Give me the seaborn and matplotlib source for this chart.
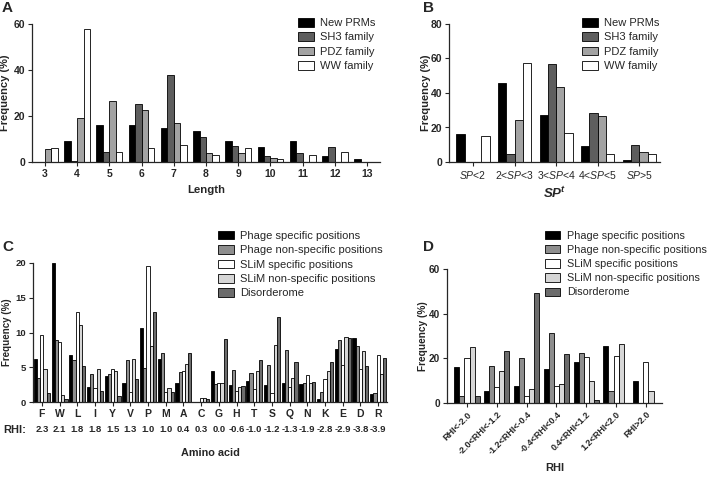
import matplotlib
matplotlib.use("Agg")
import matplotlib.pyplot as plt
import matplotlib.transforms as mtransforms
import seaborn as sns
import pandas as pd

# ---- panel A: length distribution
lengths = ["3", "4", "5", "6", "7", "8", "9", "10", "11", "12", "13"]
families = ["New PRMs", "SH3 family", "PDZ family", "WW family"]
new_prms = [0, 9.3, 16.1, 16.1, 14.8, 13.3, 9.3, 6.7, 9.3, 2.5, 1.2]
sh3_len = [0, 0.4, 4.3, 25.4, 38.0, 11.0, 7.1, 2.5, 3.9, 6.5, 0]
pdz_len = [5.7, 19.0, 26.5, 22.5, 16.8, 3.8, 3.8, 1.7, 0, 0, 0]
ww_len = [5.9, 57.7, 4.3, 5.9, 7.5, 2.9, 5.9, 1.4, 3.0, 4.5, 0]

# ---- panel B: SP^t distribution
sp_bins = [r"$\mathit{SP}$<2", r"2<$\mathit{SP}$<3", r"3<$\mathit{SP}$<4",
           r"4<$\mathit{SP}$<5", r"$\mathit{SP}$>5"]
new_sp = [16.2, 45.9, 27.0, 9.4, 1.3]
sh3_sp = [0, 4.6, 56.6, 28.5, 9.8]
pdz_sp = [0, 24.5, 43.4, 26.6, 5.6]
ww_sp = [15.2, 57.6, 16.6, 4.6, 4.6]

# ---- panel C: amino acid frequencies
amino = ["F", "W", "L", "I", "Y", "V", "P", "M", "A", "C",
         "G", "H", "T", "S", "Q", "N", "K", "E", "D", "R"]
rhi = ["2.3", "2.1", "1.8", "1.8", "1.5", "1.3", "1.0", "1.0", "0.4", "0.3",
       "0.0", "-0.6", "-1.0", "-1.2", "-1.3", "-1.9", "-2.8", "-2.9", "-3.8", "-3.9"]
sets = ["Phage specific positions", "Phage non-specific positions",
        "SLiM specific positions", "SLiM non-specific positions", "Disorderome"]
phage_spec = [6.2, 20.0, 6.8, 2.1, 3.8, 2.75, 10.6, 6.2, 2.75, 0,
              4.5, 2.4, 3.0, 2.4, 2.75, 2.6, 0.5, 7.6, 9.2, 1.1]
phage_nonspec = [3.4, 8.9, 6.1, 4.1, 4.0, 6.0, 4.9, 7.0, 4.3, 0,
                 2.6, 4.6, 4.2, 5.3, 7.5, 2.8, 1.45, 8.9, 8.1, 1.3]
slim_spec = [9.7, 8.7, 12.9, 2.0, 4.7, 1.5, 19.5, 1.4, 4.5, 0.6,
             2.7, 1.6, 1.8, 1.3, 2.2, 3.9, 3.3, 5.3, 4.7, 6.7]
slim_nonspec = [4.7, 1.0, 11.1, 4.7, 4.4, 6.2, 8.1, 2.0, 5.5, 0.6,
                2.7, 2.1, 4.4, 8.2, 3.5, 2.8, 4.4, 9.4, 7.4, 4.0]
disorderome = [1.3, 0.4, 5.2, 1.6, 0.9, 3.3, 13.0, 1.4, 7.1, 0.5,
               9.0, 2.3, 6.0, 12.3, 5.7, 2.9, 5.7, 9.2, 5.2, 6.3]

# ---- panel D: RHI bins
rhi_bins = ["RHI<-2.0", "-2.0<RHI<-1.2", "-1.2<RHI<-0.4", "-0.4<RHI<0.4",
            "0.4<RHI<1.2", "1.2<RHI<2.0", "RHI>2.0"]
d_phage_spec = [16.3, 5.5, 7.8, 15.4, 18.5, 25.4, 9.7]
d_phage_nonspec = [3.2, 16.6, 20.0, 31.2, 22.2, 5.5, 0]
d_slim_spec = [20.0, 7.0, 3.1, 7.6, 20.6, 21.2, 18.2]
d_slim_nonspec = [25.0, 14.3, 6.3, 8.5, 9.9, 26.3, 5.5]
d_disorderome = [3.0, 23.1, 49.4, 22.1, 1.2, 0, 0]

fam_colors = ["#000000", "#5e5e5e", "#a3a3a3", "#ffffff"]
set_colors = ["#000000", "#8e8e8e", "#ffffff", "#d6d6d6", "#6c6c6c"]


def long_df(cats, names, series, catcol):
    df = pd.DataFrame({n: s for n, s in zip(names, series)})
    df[catcol] = cats
    return df.melt(id_vars=catcol, var_name="group", value_name="freq")


dfA = long_df(lengths, families, [new_prms, sh3_len, pdz_len, ww_len], "cat")
dfB = long_df(sp_bins, families, [new_sp, sh3_sp, pdz_sp, ww_sp], "cat")
dfC = long_df(amino, sets, [phage_spec, phage_nonspec, slim_spec, slim_nonspec, disorderome], "cat")
dfD = long_df(rhi_bins, sets, [d_phage_spec, d_phage_nonspec, d_slim_spec, d_slim_nonspec, d_disorderome], "cat")

sns.set_style("ticks")
plt.rcParams["font.family"] = ["Liberation Sans", "DejaVu Sans"]
plt.rcParams["mathtext.fontset"] = "custom"
plt.rcParams["mathtext.rm"] = "Liberation Sans"
plt.rcParams["mathtext.it"] = "Liberation Sans:italic"
plt.rcParams["mathtext.bf"] = "Liberation Sans:bold"
plt.rcParams["mathtext.bfit"] = "Liberation Sans:bold:italic"

W, H = 708, 478
fig = plt.figure(figsize=(W / 100, H / 100), dpi=100)


def px_axes(l, r, t, b):
    return fig.add_axes([l / W, 1 - b / H, (r - l) / W, (b - t) / H])


axA = px_axes(32, 380, 24, 162)
axB = px_axes(449, 660, 24, 162)
axC = px_axes(33, 387, 263, 402)
axD = px_axes(447, 662, 269, 403)

panels = [
    (axA, dfA, lengths, families, fam_colors, 0.8, 7.5),
    (axB, dfB, sp_bins, families, fam_colors, 0.8, 7.5),
    (axC, dfC, amino, sets, set_colors, 0.9, 6.8),
    (axD, dfD, rhi_bins, sets, set_colors, 0.85, 7.2),
]
for ax, df, order, hues, cols, w, ts in panels:
    sns.barplot(data=df, x="cat", y="freq", hue="group", order=order, hue_order=hues,
                palette=cols, saturation=1, width=w, errorbar=None,
                edgecolor="black", linewidth=0.6, ax=ax)
    sns.despine(ax=ax)
    ax.tick_params(length=3, width=0.8, labelsize=7.5, pad=2)
    ax.tick_params(axis="y", labelsize=ts)
    for s in ("left", "bottom"):
        ax.spines[s].set_linewidth(0.9)

# limits and ticks
axA.set_xlim(-0.4, 10.4)
axA.set_ylim(0, 60)
axA.set_yticks([0, 20, 40, 60])
axB.set_xlim(-0.58, 4.5)
axB.set_ylim(0, 80)
axB.set_yticks([0, 20, 40, 60, 80])
axC.set_xlim(-0.5, 19.5)
axC.set_ylim(0, 20)
axC.set_yticks([0, 5, 10, 15, 20])
axD.set_xlim(-0.67, 6.54)
axD.set_ylim(0, 60)
axD.set_yticks([0, 20, 40, 60])
for ax in (axA, axB, axC, axD):
    for lab in ax.get_yticklabels():
        lab.set_fontweight("bold")

for ax in (axA, axC):
    for lab in ax.get_xticklabels():
        lab.set_fontweight("bold")
axB.tick_params(axis="x", labelsize=7.5)
axD.set_xticks(range(len(rhi_bins)))
axD.set_xticklabels(rhi_bins, rotation=45, ha="right", rotation_mode="anchor",
                    fontsize=6.5, fontweight="bold")

# axis labels
axA.set_ylabel("Frequency (%)", fontsize=8, fontweight="bold")
axB.set_ylabel("Frequency (%)", fontsize=8, fontweight="bold")
axC.set_ylabel("Frequency (%)", fontsize=7, fontweight="bold")
axD.set_ylabel("Frequency (%)", fontsize=7.3, fontweight="bold")
axA.set_xlabel("Length", fontsize=8.2, fontweight="bold")
axB.set_xlabel(r"$\mathbfit{SP}^{\mathbfit{t}}$", fontsize=9.5)
axC.set_xlabel("Amino acid", fontsize=7.8, fontweight="bold")
axD.set_xlabel("RHI", fontsize=8, fontweight="bold")
axA.xaxis.set_label_coords(0.5, -0.17)
axB.xaxis.set_label_coords(0.5, -0.17)
axC.xaxis.set_label_coords(0.5, -0.33)
axD.xaxis.set_label_coords(0.5, -0.45)
axA.yaxis.set_label_coords(-0.062, 0.5)
axB.yaxis.set_label_coords(-0.085, 0.5)
axC.yaxis.set_label_coords(-0.06, 0.5)
axD.yaxis.set_label_coords(-0.088, 0.5)

# RHI row under the amino acid letters
trans = mtransforms.blended_transform_factory(axC.transData, axC.transAxes)
for i, v in enumerate(rhi):
    axC.text(i, -0.2, v, transform=trans, ha="center", va="center",
             fontsize=6.8, fontweight="bold")
fig.text(3 / W, 1 - 430 / H, "RHI:", ha="left", va="center", fontsize=8, fontweight="bold")

# legends
for ax, x0, y0, fs in ((axA, 298, 18, 8), (axB, 582, 18, 8), (axC, 218, 231, 8), (axD, 545, 231, 7.8)):
    h, l = ax.get_legend_handles_labels()
    if ax.get_legend() is not None:
        ax.get_legend().remove()
    ax.legend(h, l, loc="upper left", bbox_to_anchor=(x0 / W, 1 - y0 / H),
              bbox_transform=fig.transFigure, frameon=False, fontsize=fs,
              borderpad=0, borderaxespad=0, handlelength=1.4, handleheight=0.8,
              handletextpad=0.6, labelspacing=0.38)

# panel letters
for x, y, s in ((2, 8, "A"), (423, 8, "B"), (2, 247, "C"), (423, 247, "D")):
    fig.text(x / W, 1 - y / H, s, ha="left", va="center", fontsize=11, fontweight="bold")

fig.savefig("out.png", dpi=100)
